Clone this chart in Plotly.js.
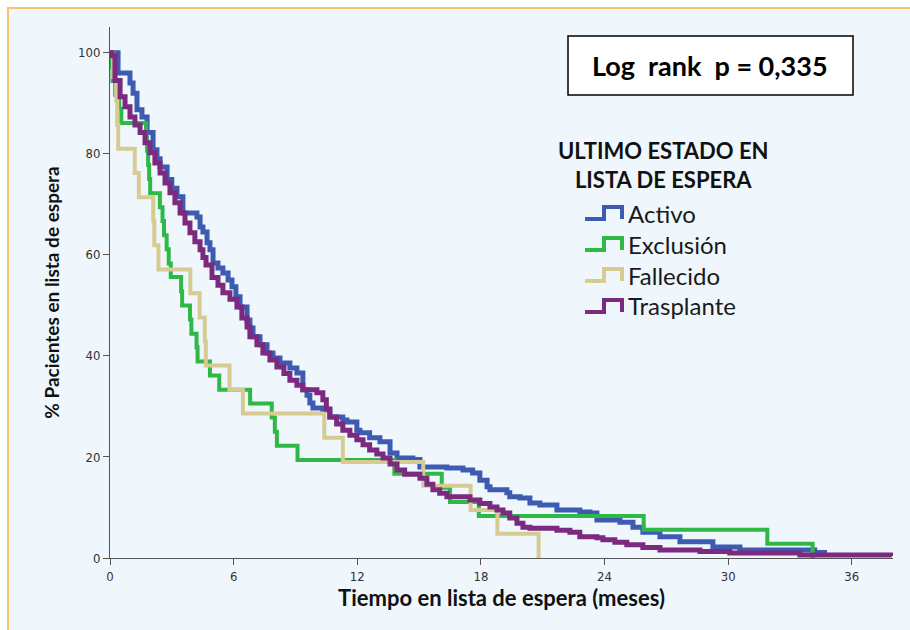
<!DOCTYPE html>
<html>
<head>
<meta charset="utf-8">
<script src="https://cdn.plot.ly/plotly-3.0.1.min.js"></script>
<style>
  html, body { margin: 0; padding: 0; background: #ffffff; }
  #frame { position: absolute; left: 7px; top: 7px; border-left: 2px solid #F7C46C; border-top: 2px solid #F7C46C; }
  #chart { width: 901px; height: 621px; }
</style>
</head>
<body>
<div id="frame"><div id="chart"></div></div>
<script>
const seriesNames = ["Activo", "Exclusión", "Fallecido", "Trasplante"];
const seriesColors = ["#3E5BB2", "#2EB846", "#D6CC93", "#7B2A7F"];

// Activo: time (months) of each step, survival (%) after the step
const activoT = [0, 0.39, 0.49, 0.97, 1.12, 1.31, 1.55, 1.8, 2.09, 2.28, 2.43, 2.77, 3.0, 3.25, 3.54, 4.22, 4.37, 4.51, 4.71, 4.85, 5.0, 5.24, 5.48, 5.73, 5.92, 6.11, 6.31, 6.65, 6.79, 6.94, 7.28, 7.62, 7.91, 8.25, 8.73, 9.07, 9.36, 9.56, 9.7, 9.85, 10.33, 10.67, 11.3, 11.5, 11.98, 12.13, 12.6, 13.1, 13.59, 13.93, 14.7, 15.04, 16.35, 17.13, 17.6, 17.95, 18.3, 18.44, 19.26, 19.4, 19.9, 20.38, 20.86, 21.69, 22.8, 23.29, 23.63, 24.75, 25.38, 25.86, 26.69, 27.66, 29.26, 30.57, 34.2, 34.8];
const activoS = [100, 96, 96, 94, 92, 88.7, 87.3, 84.2, 80.8, 79, 77.4, 74.9, 73.2, 71.5, 68.3, 67.5, 65.5, 64.5, 62.4, 61, 58.4, 57.4, 56.4, 55, 53.7, 51.7, 49.7, 47.1, 45.5, 43.8, 42.2, 40.6, 39.6, 38.6, 37.6, 36.6, 33.3, 32.2, 30.7, 29.7, 29.3, 27.9, 27.3, 26.9, 25.3, 24.8, 23.8, 23.0, 20.8, 19.8, 19.5, 18.0, 17.8, 17.4, 16.8, 15.4, 14.1, 13.5, 12.9, 12.1, 11.9, 10.9, 10.5, 9.5, 9.1, 8.9, 7.5, 7.1, 6.1, 5.1, 4.2, 3.2, 2.2, 1.6, 1.1, 1.1];

// Exclusión
const exclusionT = [0, 0.08, 0.12, 0.25, 0.45, 0.55, 1.75, 1.8, 1.85, 1.9, 1.95, 2.42, 2.55, 2.62, 2.75, 2.85, 2.95, 3.45, 3.5, 3.88, 3.95, 4.2, 4.25, 4.85, 5.3, 6.8, 7.85, 8.0, 8.1, 9.1, 13.8, 16.1, 16.5, 17.9, 25.9, 31.9, 34.1];
const exclusionS = [100, 97.2, 94.4, 91.7, 88.9, 86.1, 83.3, 80.6, 77.8, 75, 72.2, 69.4, 66.7, 63.9, 61.1, 58.3, 55.6, 52.8, 50, 47.2, 44.4, 41.7, 38.9, 36.1, 33.3, 30.6, 27.8, 25, 22.2, 19.4, 16.7, 13.9, 11.1, 8.3, 5.6, 2.8, 0];

// Fallecido
const fallecidoT = [0, 0.15, 0.3, 0.35, 0.4, 1.2, 1.4, 2.1, 2.15, 2.35, 3.9, 4.35, 4.6, 4.65, 5.8, 6.45, 10.4, 11.3, 15.2, 17.5, 18.8, 20.8];
const fallecidoS = [100, 95.2, 90.5, 85.7, 81, 76.2, 71.4, 66.7, 61.9, 57.1, 52.4, 47.6, 42.9, 38.1, 33.3, 28.6, 23.8, 19, 14.3, 9.5, 4.8, 0];

// Trasplante
const trasplanteT = [0, 0.1, 0.24, 0.49, 0.73, 0.97, 1.21, 1.46, 1.7, 1.94, 2.18, 2.43, 2.67, 2.91, 3.15, 3.4, 3.64, 3.88, 4.12, 4.37, 4.51, 4.66, 4.95, 5.24, 5.48, 5.82, 6.16, 6.4, 6.65, 6.79, 7.13, 7.42, 7.76, 8.1, 8.44, 8.73, 9.07, 9.36, 10.04, 10.33, 10.5, 10.67, 11.0, 11.3, 11.64, 11.98, 12.28, 12.6, 12.95, 13.25, 13.59, 13.93, 14.3, 15.04, 15.38, 15.67, 16.0, 16.35, 17.47, 17.95, 18.44, 18.78, 19.07, 19.4, 19.75, 20.04, 20.38, 21.69, 22.32, 22.8, 23.63, 23.92, 24.5, 25.08, 25.86, 26.69, 28.63, 30.08, 33.48, 37.94];
const trasplanteS = [100, 99.4, 94.5, 91.3, 89.3, 87.3, 85.7, 84.2, 82.2, 80.2, 78.2, 76.2, 74.2, 72.3, 70.3, 68.3, 66.3, 64.4, 62.6, 61, 59.5, 58, 55.5, 54, 52.5, 51.2, 49.7, 47.5, 45.7, 43.8, 42.2, 40.6, 39.2, 37.8, 36.5, 35.2, 34.2, 33.3, 32.7, 31.3, 29.5, 27.9, 26.5, 25.3, 24.3, 23.4, 22.4, 21.4, 20.6, 19.8, 18.6, 17.4, 16.6, 15.8, 14.6, 13.5, 12.8, 12.1, 11.5, 10.8, 10.1, 9.5, 8.9, 7.9, 6.9, 6.1, 5.9, 5.5, 5.1, 4.2, 4.0, 3.6, 3.1, 2.6, 2.1, 1.6, 1.3, 1.0, 0.6, 0.4];

const xTickVals = [0, 6, 12, 18, 24, 30, 36];
const yTickVals = [0, 20, 40, 60, 80, 100];

// ---- Layout helpers (page pixel -> paper coordinates for decorations) ----
const PLOT_L = 110, PLOT_W = 783, PLOT_B = 558, PLOT_H = 531;
const px = X => (X - PLOT_L) / PLOT_W;
const py = Y => (PLOT_B - Y) / PLOT_H;

const timesList = [activoT, exclusionT, fallecidoT, trasplanteT];
const survList = [activoS, exclusionS, fallecidoS, trasplanteS];
const widths = [5, 4, 4, 5];

const traces = seriesNames.map((n, i) => ({
  type: "scatter", mode: "lines", name: n,
  x: timesList[i], y: survList[i],
  line: { shape: "hv", color: seriesColors[i], width: widths[i] },
  showlegend: false, cliponaxis: false
}));

const txtFont = "Lato, Carlito, 'Open Sans', sans-serif";
const tickFont = { family: "'Liberation Sans Narrow', 'DejaVu Sans Condensed', Arial, sans-serif", size: 13, color: "#333" };

// legend rows (page y centres) and decorations
const legendRowsY = [213, 244, 275, 306];
const shapes = [
  { type: "rect", xref: "paper", yref: "paper", x0: px(568), x1: px(853), y0: py(95), y1: py(36),
    fillcolor: "#ffffff", line: { color: "#000000", width: 1.5 }, layer: "above" }
];
const annotations = [
  { xref: "paper", yref: "paper", x: px(710), y: py(66), xanchor: "center", yanchor: "middle", showarrow: false,
    text: "<b>Log\u00a0 rank\u00a0 p = 0,335</b>", font: { family: txtFont, size: 27, color: "#000" } },
  { xref: "paper", yref: "paper", x: px(663), y: py(165), xanchor: "center", yanchor: "middle", showarrow: false,
    align: "center",
    text: "<b>ULTIMO ESTADO EN<br>LISTA DE ESPERA</b>", font: { family: txtFont, size: 22, color: "#111" } }
];
seriesNames.forEach((n, i) => {
  const yc = legendRowsY[i];
  shapes.push({
    type: "path", xref: "paper", yref: "paper",
    path: `M ${px(585)},${py(yc + 6)} L ${px(604)},${py(yc + 6)} L ${px(604)},${py(yc - 6)} L ${px(622)},${py(yc - 6)} L ${px(622)},${py(yc + 6)}`,
    line: { color: seriesColors[i], width: 4 }, layer: "above"
  });
  annotations.push({
    xref: "paper", yref: "paper", x: px(626), y: py(yc), xanchor: "left", yanchor: "middle", showarrow: false,
    text: n, font: { family: txtFont, size: 24, color: "#1a1a1a" }
  });
});

const layout = {
  width: 901, height: 621,
  margin: { l: 101, r: 17, t: 18, b: 72 },
  paper_bgcolor: "#EFF7FD", plot_bgcolor: "#EFF7FD",
  showlegend: false,
  xaxis: {
    range: [0, 38], tickvals: xTickVals, ticktext: xTickVals.map(String),
    showline: true, linecolor: "#555", linewidth: 1, ticks: "outside", ticklen: 6, tickcolor: "#555",
    showgrid: false, zeroline: false, tickfont: tickFont, automargin: false,
    title: { text: "<b>Tiempo en lista de espera (meses)</b>", font: { family: txtFont, size: 22, color: "#111" }, standoff: 7 }
  },
  yaxis: {
    range: [0, 105.1], tickvals: yTickVals, ticktext: yTickVals.map(String),
    showline: true, linecolor: "#555", linewidth: 1, ticks: "outside", ticklen: 6, tickcolor: "#555",
    showgrid: false, zeroline: false, tickfont: tickFont, automargin: false,
    title: { text: "<b>% Pacientes en lista de espera</b>", font: { family: txtFont, size: 19, color: "#111" }, standoff: 13 }
  },
  shapes: shapes,
  annotations: annotations
};

Plotly.newPlot("chart", traces, layout, { displayModeBar: false, staticPlot: true });
</script>
</body>
</html>
